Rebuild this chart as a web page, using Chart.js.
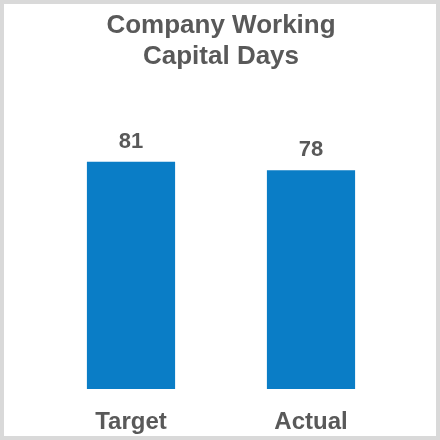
<!DOCTYPE html>
<html><head><meta charset="utf-8">
<script src="https://cdn.jsdelivr.net/npm/chart.js@4/dist/chart.umd.min.js"></script>
<style>html,body{margin:0;padding:0;background:#fff;}#wrap{width:440px;height:440px;position:relative;}</style>
</head><body><div id="wrap"><canvas id="c" width="440" height="440"></canvas></div>
<script>
const titleLines = ['Company Working', 'Capital Days'];
const categories = ['Target', 'Actual'];
const values = [81, 78];

const textColor = '#595959';
const barColor = '#0A7DC6';
const fontFamily = '"Liberation Sans", Arial, sans-serif';

const frame = {
  id: 'frame',
  beforeDraw(chart) {
    const ctx = chart.ctx;
    ctx.save();
    ctx.fillStyle = '#fff';
    ctx.fillRect(0, 0, chart.width, chart.height);
    ctx.restore();
  },
  afterDraw(chart) {
    const ctx = chart.ctx;
    ctx.save();
    ctx.strokeStyle = '#D9D9D9';
    ctx.lineWidth = 4;
    ctx.strokeRect(2, 2, chart.width - 4, chart.height - 4);
    ctx.restore();
  }
};

const valueLabels = {
  id: 'valueLabels',
  afterDatasetsDraw(chart) {
    const ctx = chart.ctx;
    const meta = chart.getDatasetMeta(0);
    ctx.save();
    ctx.fillStyle = textColor;
    ctx.font = 'bold 22px ' + fontFamily;
    ctx.textAlign = 'center';
    ctx.textBaseline = 'alphabetic';
    meta.data.forEach((bar, i) => {
      ctx.fillText(String(chart.data.datasets[0].data[i]), bar.x, bar.y - 14);
    });
    ctx.restore();
  }
};

new Chart(document.getElementById('c'), {
  type: 'bar',
  data: {
    labels: categories,
    datasets: [{ data: values, backgroundColor: barColor, borderWidth: 0,
      categoryPercentage: 1, barPercentage: 0.49 }]
  },
  options: {
    responsive: false,
    animation: false,
    layout: { padding: { left: 41, right: 39, top: 0, bottom: -14.8 } },
    plugins: {
      legend: { display: false },
      tooltip: { enabled: false },
      title: {
        display: true, text: titleLines, color: textColor,
        font: { family: fontFamily, size: 26, weight: 'bold', lineHeight: 1.2 },
        padding: { top: 10, bottom: 36 }
      }
    },
    scales: {
      x: {
        grid: { display: false, drawTicks: false },
        border: { display: false },
        ticks: { color: textColor, padding: 18.5, font: { family: fontFamily, size: 24, weight: 'bold', lineHeight: 1.2 } }
      },
      y: { display: false, min: 0, max: 100 }
    }
  },
  plugins: [frame, valueLabels]
});
</script></body></html>
